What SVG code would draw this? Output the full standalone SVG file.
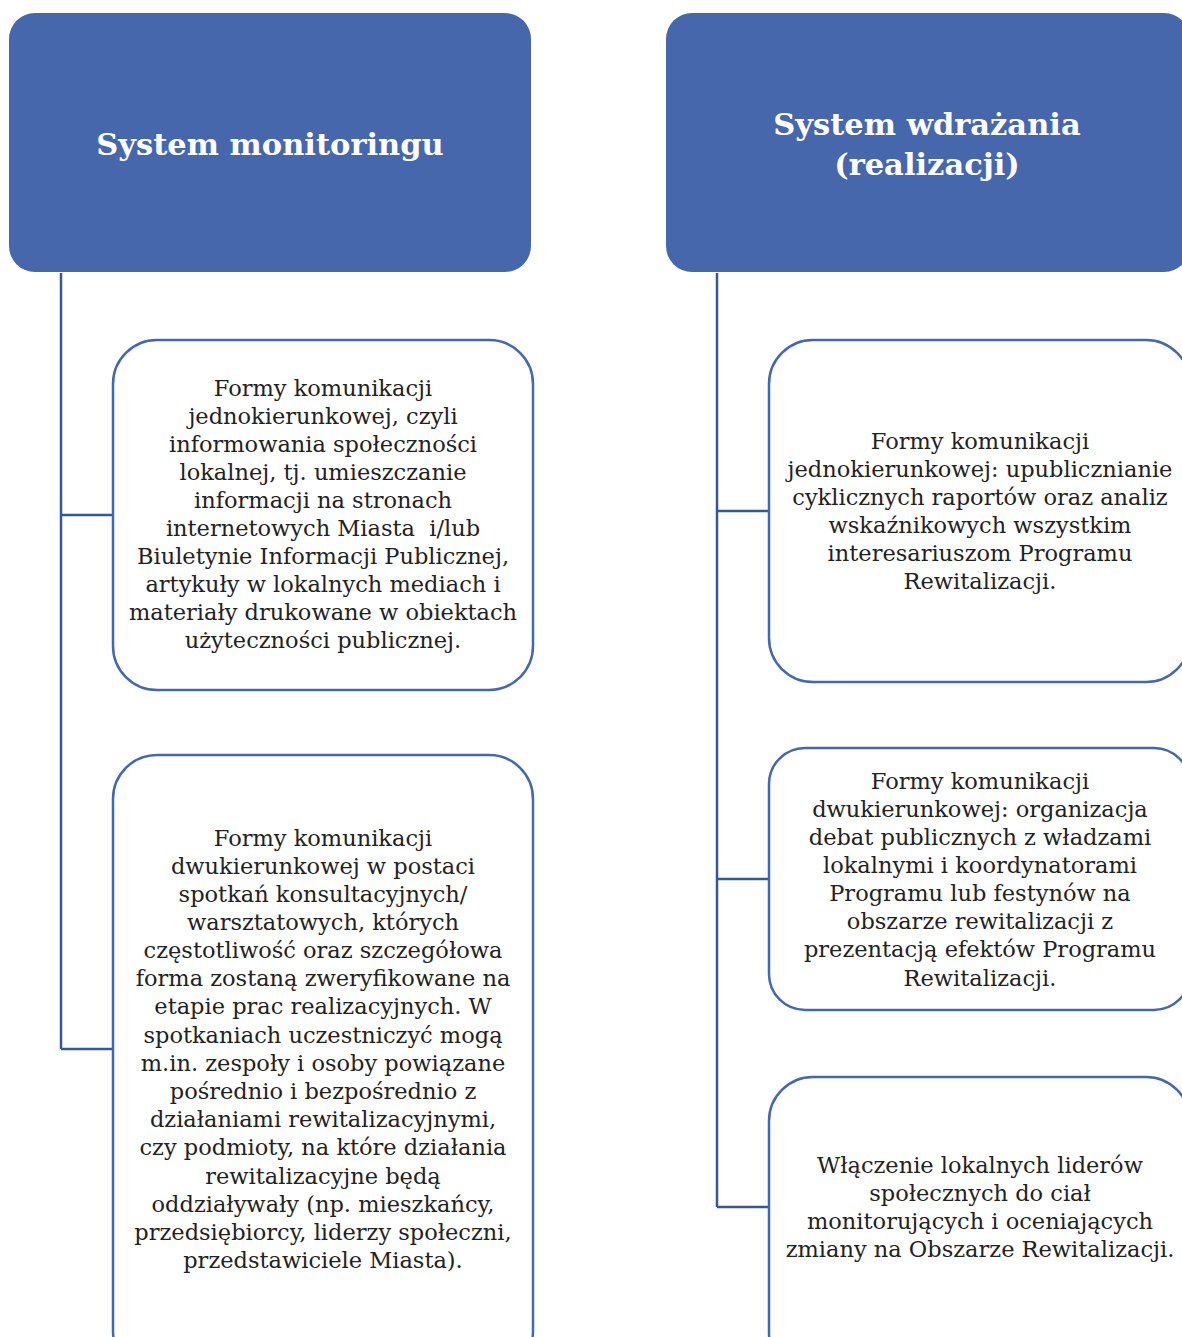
<svg xmlns="http://www.w3.org/2000/svg" width="1182" height="1337" viewBox="0 0 1182 1337">
<style>
.hdr{fill:#4667AC;}
.hdrt{font-family:"DejaVu Serif","Liberation Serif",serif;font-weight:bold;font-size:30.5px;fill:#ffffff;text-anchor:middle;}
.box{fill:#ffffff;stroke:#4468B0;stroke-width:2.5;}
.t{font-family:"DejaVu Serif","Liberation Serif",serif;font-size:22.5px;fill:#222222;text-anchor:middle;}
.conn{fill:none;stroke:#34569C;stroke-width:2.5;}
</style>
<rect width="1182" height="1337" fill="#ffffff"/>
<g id="connectors">
<path class="conn" d="M61,273 V1049 M61,515 H113 M61,1049 H113"/>
<path class="conn" d="M717,273 V1207 M717,511 H769 M717,879 H769 M717,1207 H769"/>
</g>
<g id="header-monitoring">
<rect class="hdr" x="9" y="13" width="522" height="259" rx="26"/>
<text class="hdrt" x="270" y="155">System monitoringu</text>
</g>
<g id="header-wdrazanie">
<rect class="hdr" x="666" y="13" width="524" height="259" rx="26"/>
<text class="hdrt" x="927" y="135">System wdrażania</text>
<text class="hdrt" x="927" y="175">(realizacji)</text>
</g>
<g id="box-m1">
<rect class="box" x="113" y="340" width="420" height="350" rx="44"/>
<text class="t" x="323" y="396">Formy komunikacji</text>
<text class="t" x="323" y="424">jednokierunkowej, czyli</text>
<text class="t" x="323" y="452">informowania społeczności</text>
<text class="t" x="323" y="480">lokalnej, tj. umieszczanie</text>
<text class="t" x="323" y="508">informacji na stronach</text>
<text class="t" x="323" y="536">internetowych Miasta&#160; i/lub</text>
<text class="t" x="323" y="564">Biuletynie Informacji Publicznej,</text>
<text class="t" x="323" y="592">artykuły w lokalnych mediach i</text>
<text class="t" x="323" y="620">materiały drukowane w obiektach</text>
<text class="t" x="323" y="648">użyteczności publicznej.</text>
</g>
<g id="box-m2">
<rect class="box" x="113" y="755" width="420" height="620" rx="44"/>
<text class="t" x="323" y="846">Formy komunikacji</text>
<text class="t" x="323" y="874">dwukierunkowej w postaci</text>
<text class="t" x="323" y="902">spotkań konsultacyjnych/</text>
<text class="t" x="323" y="930">warsztatowych, których</text>
<text class="t" x="323" y="958">częstotliwość oraz szczegółowa</text>
<text class="t" x="323" y="986">forma zostaną zweryfikowane na</text>
<text class="t" x="323" y="1014">etapie prac realizacyjnych. W</text>
<text class="t" x="323" y="1043">spotkaniach uczestniczyć mogą</text>
<text class="t" x="323" y="1071">m.in. zespoły i osoby powiązane</text>
<text class="t" x="323" y="1099">pośrednio i bezpośrednio z</text>
<text class="t" x="323" y="1127">działaniami rewitalizacyjnymi,</text>
<text class="t" x="323" y="1155">czy podmioty, na które działania</text>
<text class="t" x="323" y="1184">rewitalizacyjne będą</text>
<text class="t" x="323" y="1212">oddziaływały (np. mieszkańcy,</text>
<text class="t" x="323" y="1240">przedsiębiorcy, liderzy społeczni,</text>
<text class="t" x="323" y="1268">przedstawiciele Miasta).</text>
</g>
<g id="box-w1">
<rect class="box" x="769" y="340" width="421" height="342" rx="44"/>
<text class="t" x="980" y="449">Formy komunikacji</text>
<text class="t" x="980" y="477">jednokierunkowej: upublicznianie</text>
<text class="t" x="980" y="505">cyklicznych raportów oraz analiz</text>
<text class="t" x="980" y="533">wskaźnikowych wszystkim</text>
<text class="t" x="980" y="561">interesariuszom Programu</text>
<text class="t" x="980" y="589">Rewitalizacji.</text>
</g>
<g id="box-w2">
<rect class="box" x="769" y="748" width="421" height="262" rx="36"/>
<text class="t" x="980" y="789">Formy komunikacji</text>
<text class="t" x="980" y="817">dwukierunkowej: organizacja</text>
<text class="t" x="980" y="845">debat publicznych z władzami</text>
<text class="t" x="980" y="873">lokalnymi i koordynatorami</text>
<text class="t" x="980" y="901">Programu lub festynów na</text>
<text class="t" x="980" y="929">obszarze rewitalizacji z</text>
<text class="t" x="980" y="957">prezentacją efektów Programu</text>
<text class="t" x="980" y="986">Rewitalizacji.</text>
</g>
<g id="box-w3">
<rect class="box" x="769" y="1077" width="421" height="300" rx="44"/>
<text class="t" x="980" y="1173">Włączenie lokalnych liderów</text>
<text class="t" x="980" y="1201">społecznych do ciał</text>
<text class="t" x="980" y="1229">monitorujących i oceniających</text>
<text class="t" x="980" y="1257">zmiany na Obszarze Rewitalizacji.</text>
</g>
</svg>
